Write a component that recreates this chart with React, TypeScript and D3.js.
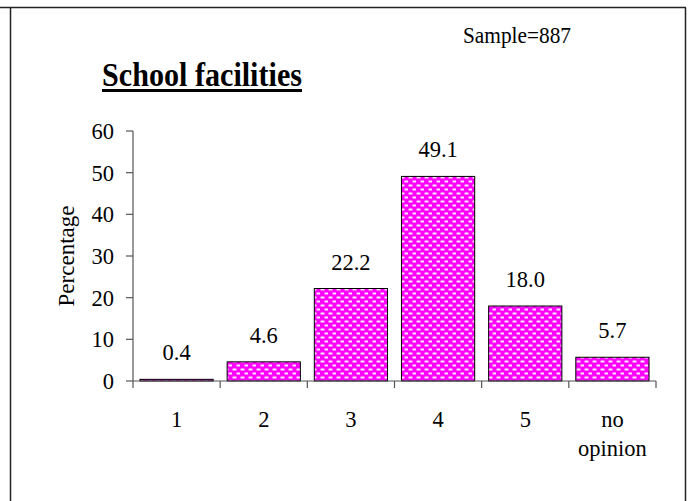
import React from "react";
import * as d3 from "d3";

const categories = ["1", "2", "3", "4", "5", "no opinion"];
const values = [0.4, 4.6, 22.2, 49.1, 18.0, 5.7];
const yTicks = [0, 10, 20, 30, 40, 50, 60];
const title = "School facilities";
const sampleText = "Sample=887";
const yLabel = "Percentage";

const W = 694;
const H = 501;
const FONT = "'Liberation Serif', 'Times New Roman', serif";

export default function App() {
  const x = d3
    .scaleBand<string>()
    .domain(categories)
    .range([133, 656])
    .paddingInner(0.16)
    .paddingOuter(0.08);
  const y = d3.scaleLinear().domain([0, 60]).range([381, 131]);
  const fmt = d3.format(".1f");
  const step = x.step();
  const x0 = x.range()[0];
  const boundaries = d3.range(categories.length + 1).map((i) => x0 + i * step);

  return (
    <svg
      width={W}
      height={H}
      style={{ position: "absolute", left: 0, top: 0, background: "#fff" }}
      fontFamily={FONT}
    >
      <defs>
        <pattern id="dots" width={8} height={8} patternUnits="userSpaceOnUse">
          <rect x={0} y={0} width={8} height={8} fill="#FF00FF" />
          <rect x={0.5} y={0.5} width={4} height={2} fill="#fff" opacity={0.9} />
          <rect x={4.5} y={4.5} width={4} height={2} fill="#fff" opacity={0.9} />
        </pattern>
      </defs>
      {/* frame */}
      <path d="M0,7.5 H686 M10.5,7.5 V501 M685.5,7.5 V501" stroke="#222" strokeWidth={1.5} fill="none" />

      <text x={463} y={43} fontSize={23} fill="#000" textLength={108} lengthAdjust="spacingAndGlyphs">
        {sampleText}
      </text>
      <text x={102} y={86} fontSize={34} fontWeight="bold" fill="#000" textLength={200} lengthAdjust="spacingAndGlyphs">
        {title}
      </text>
      <rect x={102} y={89} width={200} height={3} fill="#000" />

      {/* y label */}
      <text
        transform={`translate(74,256) rotate(-90)`}
        textAnchor="middle"
        fontSize={23}
        fill="#000"
      >
        {yLabel}
      </text>

      {/* bars */}
      {values.map((v, i) => (
        <rect
          key={categories[i]}
          x={x(categories[i])}
          y={y(v)}
          width={x.bandwidth()}
          height={y(0) - y(v)}
          fill="url(#dots)"
          stroke="#000"
          strokeWidth={1}
        />
      ))}
      {values.map((v, i) => (
        <text
          key={"l" + i}
          x={(x(categories[i]) as number) + x.bandwidth() / 2}
          y={y(v) - 19}
          textAnchor="middle"
          fontSize={22.5}
          fill="#000"
        >
          {fmt(v)}
        </text>
      ))}

      {/* y axis */}
      <line x1={133} x2={133} y1={y(60)} y2={y(0)} stroke="#555" strokeWidth={1.2} />
      {yTicks.map((t) => (
        <g key={t}>
          <line x1={126} x2={133} y1={y(t)} y2={y(t)} stroke="#555" strokeWidth={1.2} />
          <text x={114} y={y(t)} dy="0.35em" textAnchor="end" fontSize={22.5} fill="#000">
            {t}
          </text>
        </g>
      ))}

      {/* x axis */}
      <line x1={133} x2={656} y1={y(0)} y2={y(0)} stroke="#555" strokeWidth={1.2} />
      {boundaries.map((b, i) => (
        <line key={"t" + i} x1={b} x2={b} y1={y(0)} y2={y(0) + 7} stroke="#555" strokeWidth={1.2} />
      ))}
      {categories.map((c) => {
        const cx = (x(c) as number) + x.bandwidth() / 2;
        const lines = c === "no opinion" ? ["no", "opinion"] : [c];
        return (
          <text key={"c" + c} x={cx} y={427} textAnchor="middle" fontSize={22.5} fill="#000">
            {lines.map((ln, j) => (
              <tspan key={j} x={cx} dy={j === 0 ? 0 : 29}>
                {ln}
              </tspan>
            ))}
          </text>
        );
      })}
    </svg>
  );
}
